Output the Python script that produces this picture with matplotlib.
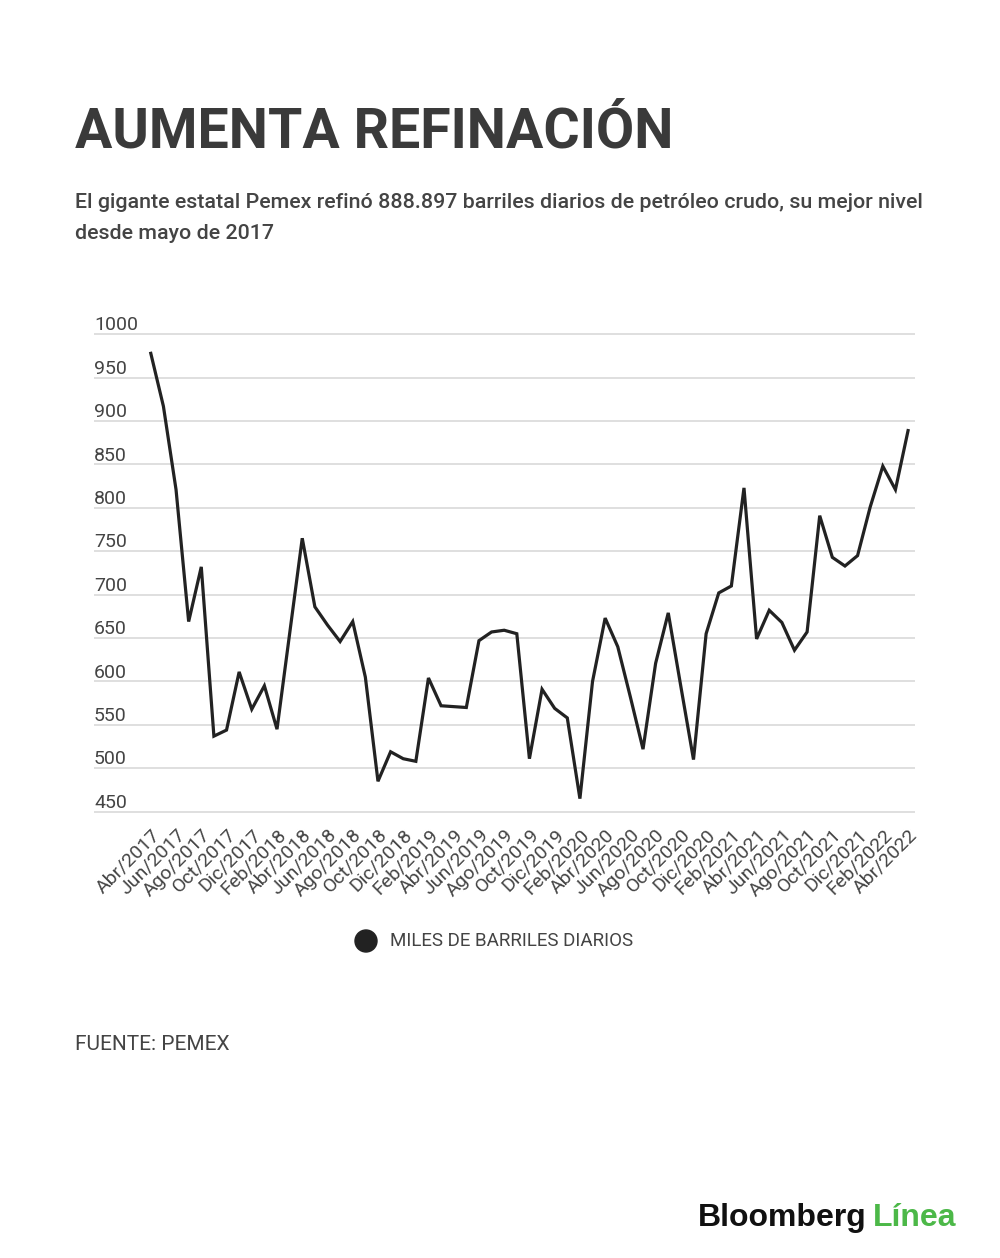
import matplotlib.pyplot as plt
from matplotlib.patches import Ellipse

# Pemex crude refining, thousand barrels per day, Abr/2017 - Abr/2022 (monthly)
months = ["Abr", "May", "Jun", "Jul", "Ago", "Sep", "Oct", "Nov", "Dic", "Ene", "Feb", "Mar"]
start_year = 2017
values = [
    978, 917, 821, 669, 732, 537, 544, 611, 568, 595, 545, 655,   # Abr/17 - Mar/18
    765, 686, 665, 646, 669, 605, 485, 519, 511, 508, 604, 572,   # Abr/18 - Mar/19
    571, 570, 647, 657, 659, 655, 511, 591, 569, 558, 465, 600,   # Abr/19 - Mar/20
    673, 640, 582, 522, 621, 679, 594, 510, 655, 702, 710, 823,   # Abr/20 - Mar/21
    649, 682, 668, 636, 657, 791, 743, 733, 745, 801, 848, 821,   # Abr/21 - Mar/22
    889,                                                          # Abr/22
]
y_ticks = [450, 500, 550, 600, 650, 700, 750, 800, 850, 900, 950, 1000]

labels = []
for i in range(len(values)):
    m = months[i % 12]
    yr = start_year + (i + 3) // 12
    labels.append(f"{m}/{yr}")

plt.rcParams['font.family'] = ['Roboto', 'DejaVu Sans']

fig = plt.figure(figsize=(10, 12.58), dpi=100)
ax = fig.add_axes([0.094, 0.3548, 0.821, 0.3795])

x = list(range(len(values)))
ax.plot(x, values, color="#222222", lw=2.3, solid_joinstyle="miter", zorder=3)

ax.set_xlim(-4.5, 60.55)
ax.set_ylim(450, 1000)
ax.hlines(y_ticks, -4.5, 60.55, colors="#dcdcdc", lw=1.3, clip_on=False, zorder=1)
for v in y_ticks:
    ax.text(-4.5, v + 4.5, str(v), ha="left", va="baseline", fontsize=14, color="#444444")

ax.set_yticks([])
ax.set_xticks(x[::2])
ax.set_xticklabels(labels[::2], rotation=45, ha="right", rotation_mode="anchor",
                   fontsize=14, color="#444444")
ax.tick_params(axis="x", length=0, pad=10)
for s in ax.spines.values():
    s.set_visible(False)

# title and subtitle
fig.text(0.075, 1 - 148 / 1258, "AUMENTA REFINACIÓN", fontsize=40, fontweight="bold",
         color="#3a3a3a", ha="left", va="baseline")
fig.text(0.075, 1 - 208 / 1258,
         "El gigante estatal Pemex refinó 888.897 barriles diarios de petróleo crudo, su mejor nivel",
         fontsize=15.4, fontweight="medium", color="#444444", ha="left", va="baseline")
fig.text(0.075, 1 - 239 / 1258, "desde mayo de 2017",
         fontsize=15.4, fontweight="medium", color="#444444", ha="left", va="baseline")

# legend
fig.patches.append(Ellipse((0.366, 1 - 941 / 1258), 0.022, 0.022 * 1000 / 1258,
                           transform=fig.transFigure, color="#222222"))
fig.text(0.39, 1 - 941 / 1258, "MILES DE BARRILES DIARIOS", fontsize=13.5, color="#444444",
         ha="left", va="center")

# source
fig.text(0.075, 1 - 1045 / 1258, "FUENTE: PEMEX", fontsize=15, color="#444444",
         ha="left", va="center")

# logo
fig.text(0.698, 1 - 1226 / 1258, "Bloomberg", fontsize=23, fontweight="bold",
         color="#111111", ha="left", va="baseline", family="Liberation Sans")
fig.text(0.873, 1 - 1226 / 1258, "Línea", fontsize=23, fontweight="bold",
         color="#4cb848", ha="left", va="baseline", family="Liberation Sans")

fig.savefig("out.png", dpi=100, facecolor="white")
